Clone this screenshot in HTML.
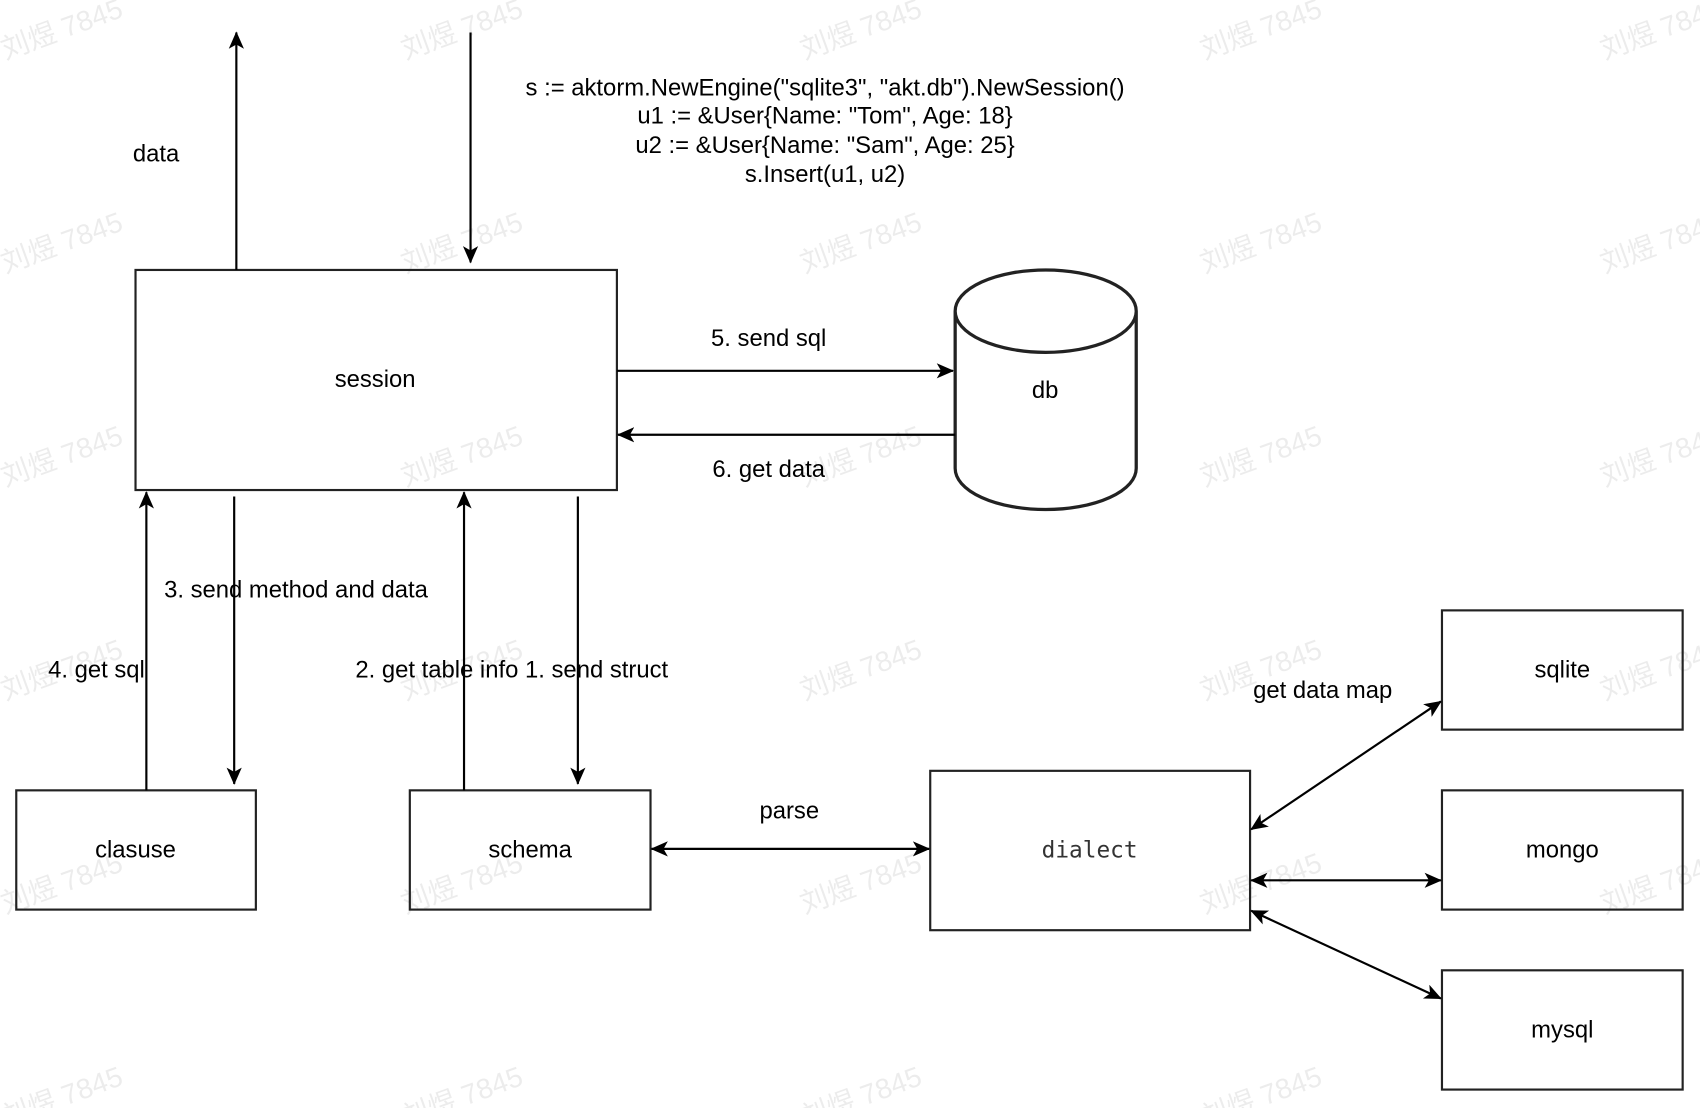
<!DOCTYPE html>
<html><head><meta charset="utf-8"><style>
html,body{margin:0;padding:0;background:#fff;}
svg{display:block}
text{font-family:"Liberation Sans",sans-serif;font-size:22px;fill:#000}
.wm{font-family:"Liberation Sans","Noto Sans CJK SC",sans-serif;font-size:26px;fill:#000;opacity:0.07}
</style></head><body>
<svg width="1700" height="1108" viewBox="0 0 1568 1022" preserveAspectRatio="none" xmlns="http://www.w3.org/2000/svg">
<defs>
<marker id="b" viewBox="0 0 16 16" refX="15" refY="8" markerWidth="16" markerHeight="16" markerUnits="userSpaceOnUse" orient="auto-start-reverse">
<path d="M0,1 L16,8 L0,15 L4,8 z" fill="#000"/></marker>
</defs>
<rect width="1568" height="1022" fill="#fff"/>
<g>
<text class="wm" transform="translate(5,55) rotate(-20)">刘煜 7845</text>
<text class="wm" transform="translate(374,55) rotate(-20)">刘煜 7845</text>
<text class="wm" transform="translate(742,55) rotate(-20)">刘煜 7845</text>
<text class="wm" transform="translate(1111,55) rotate(-20)">刘煜 7845</text>
<text class="wm" transform="translate(1480,55) rotate(-20)">刘煜 7845</text>
<text class="wm" transform="translate(5,252) rotate(-20)">刘煜 7845</text>
<text class="wm" transform="translate(374,252) rotate(-20)">刘煜 7845</text>
<text class="wm" transform="translate(742,252) rotate(-20)">刘煜 7845</text>
<text class="wm" transform="translate(1111,252) rotate(-20)">刘煜 7845</text>
<text class="wm" transform="translate(1480,252) rotate(-20)">刘煜 7845</text>
<text class="wm" transform="translate(5,449) rotate(-20)">刘煜 7845</text>
<text class="wm" transform="translate(374,449) rotate(-20)">刘煜 7845</text>
<text class="wm" transform="translate(742,449) rotate(-20)">刘煜 7845</text>
<text class="wm" transform="translate(1111,449) rotate(-20)">刘煜 7845</text>
<text class="wm" transform="translate(1480,449) rotate(-20)">刘煜 7845</text>
<text class="wm" transform="translate(5,646) rotate(-20)">刘煜 7845</text>
<text class="wm" transform="translate(374,646) rotate(-20)">刘煜 7845</text>
<text class="wm" transform="translate(742,646) rotate(-20)">刘煜 7845</text>
<text class="wm" transform="translate(1111,646) rotate(-20)">刘煜 7845</text>
<text class="wm" transform="translate(1480,646) rotate(-20)">刘煜 7845</text>
<text class="wm" transform="translate(5,843) rotate(-20)">刘煜 7845</text>
<text class="wm" transform="translate(374,843) rotate(-20)">刘煜 7845</text>
<text class="wm" transform="translate(742,843) rotate(-20)">刘煜 7845</text>
<text class="wm" transform="translate(1111,843) rotate(-20)">刘煜 7845</text>
<text class="wm" transform="translate(1480,843) rotate(-20)">刘煜 7845</text>
<text class="wm" transform="translate(5,1040) rotate(-20)">刘煜 7845</text>
<text class="wm" transform="translate(374,1040) rotate(-20)">刘煜 7845</text>
<text class="wm" transform="translate(742,1040) rotate(-20)">刘煜 7845</text>
<text class="wm" transform="translate(1111,1040) rotate(-20)">刘煜 7845</text>
</g>
<g fill="none" stroke="#222" stroke-width="2">
<rect x="125" y="249" width="444" height="203"/>
<rect x="15" y="729" width="221" height="110"/>
<rect x="378" y="729" width="222" height="110"/>
<rect x="858" y="711" width="295" height="147"/>
<rect x="1330" y="563" width="222" height="110"/>
<rect x="1330" y="729" width="222" height="110"/>
<rect x="1330" y="895" width="222" height="110"/>
<path d="M881,287 A83.5,38 0 0 1 1048,287 L1048,432 A83.5,38 0 0 1 881,432 Z M881,287 A83.5,38 0 0 0 1048,287" stroke-width="3"/>
</g>
<g stroke="#000" stroke-width="2" fill="none">
<line x1="218" y1="249" x2="218" y2="30" marker-end="url(#b)"/>
<line x1="434" y1="30" x2="434" y2="242" marker-end="url(#b)"/>
<line x1="569" y1="342" x2="879" y2="342" marker-end="url(#b)"/>
<line x1="881" y1="401" x2="570" y2="401" marker-end="url(#b)"/>
<line x1="135" y1="729" x2="135" y2="454" marker-end="url(#b)"/>
<line x1="216" y1="458" x2="216" y2="723" marker-end="url(#b)"/>
<line x1="428" y1="729" x2="428" y2="454" marker-end="url(#b)"/>
<line x1="533" y1="458" x2="533" y2="723" marker-end="url(#b)"/>
<line x1="601" y1="783" x2="857" y2="783" marker-start="url(#b)" marker-end="url(#b)"/>
<line x1="1154" y1="765" x2="1329" y2="647" marker-start="url(#b)" marker-end="url(#b)"/>
<line x1="1154" y1="812" x2="1329" y2="812" marker-start="url(#b)" marker-end="url(#b)"/>
<line x1="1154" y1="840" x2="1329" y2="921" marker-start="url(#b)" marker-end="url(#b)"/>
</g>
<g text-anchor="middle">
<text x="144" y="149">data</text>
<text x="761" y="88">s := aktorm.NewEngine("sqlite3", "akt.db").NewSession()</text>
<text x="761" y="114">u1 := &amp;User{Name: "Tom", Age: 18}</text>
<text x="761" y="141">u2 := &amp;User{Name: "Sam", Age: 25}</text>
<text x="761" y="168">s.Insert(u1, u2)</text>
<text x="346" y="357">session</text>
<text x="964" y="367">db</text>
<text x="709" y="319">5. send sql</text>
<text x="709" y="440">6. get data</text>
<text x="273" y="551">3. send method and data</text>
<text x="89" y="625">4. get sql</text>
<text x="472" y="625">2. get table info 1. send struct</text>
<text x="1220" y="644">get data map</text>
<text x="728" y="755">parse</text>
<text x="125" y="791">clasuse</text>
<text x="489" y="791">schema</text>
<text x="1005" y="791" style="font-family:'DejaVu Sans Mono','Liberation Mono',monospace;fill:#333;font-size:21px">dialect</text>
<text x="1441" y="625">sqlite</text>
<text x="1441" y="791">mongo</text>
<text x="1441" y="957">mysql</text>
</g>
</svg>
</body></html>
